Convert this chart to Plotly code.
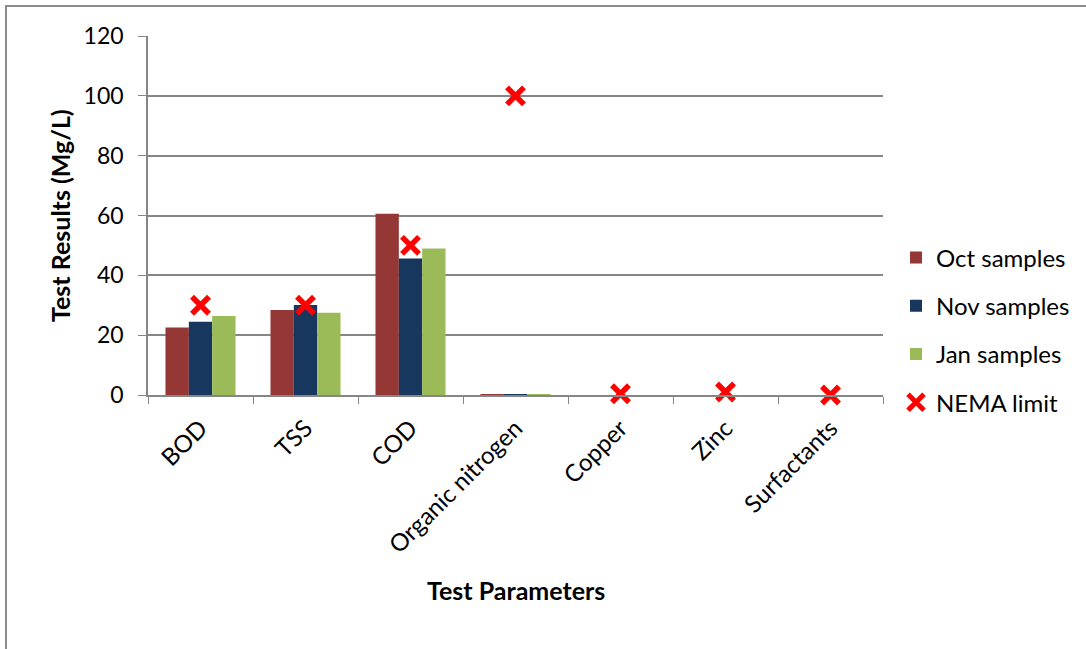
import plotly.graph_objects as go

# Test parameters and measured values (Mg/L)
categories = ["BOD", "TSS", "COD", "Organic nitrogen", "Copper", "Zinc", "Surfactants"]
oct_samples = [22.6, 28.4, 60.6, 0.3, 0, 0, 0]
nov_samples = [24.5, 30.1, 45.6, 0.1, 0, 0, 0]
jan_samples = [26.4, 27.5, 49.0, 0.3, 0, 0, 0]
nema_limit = [30, 30, 50, 100, 0.4, 1.0, 0]
y_ticks = [0, 20, 40, 60, 80, 100, 120]

FONT = "Lato"
W, H = 1086, 649
L, R, T, B = 148, 203, 36, 254
PW, PH = W - L - R, H - T - B

fig = go.Figure()
for name, vals, color, grp in [
    ("Oct samples", oct_samples, "#953735", "a"),
    ("Nov samples", nov_samples, "#17375E", "b"),
    ("Jan samples", jan_samples, "#9BBB59", "c"),
]:
    fig.add_trace(go.Bar(x=categories, y=vals, name=name, marker_color=color,
                         marker_line_width=0, legendgroup=grp))

fig.add_trace(go.Scatter(
    x=categories, y=nema_limit, name="NEMA limit", mode="markers",
    marker=dict(symbol="x-thin", size=17, color="#FF0000",
                line=dict(color="#FF0000", width=5.5)),
    legendgroup="d", cliponaxis=False,
))

def px_x(p):
    return (p - L) / PW

def px_y(p):
    return 1 - (p - T) / PH

fig.update_layout(
    width=W, height=H,
    margin=dict(l=L, r=R, t=T, b=B, autoexpand=False),
    paper_bgcolor="white", plot_bgcolor="white",
    font=dict(family=FONT, size=24, color="black"),
    barmode="group", bargap=0.333, bargroupgap=0,
    showlegend=True,
    legend=dict(x=px_x(896), xanchor="left", y=px_y(330), yanchor="middle",
                font=dict(family=FONT, size=24), tracegroupgap=14,
                bgcolor="rgba(0,0,0,0)", itemwidth=30),
    xaxis=dict(
        type="category", tickangle=-45, tickson="boundaries",
        ticks="outside", ticklen=7, tickcolor="#868686",
        showline=True, linecolor="#868686", linewidth=1.5,
        showgrid=False, tickfont=dict(family=FONT, size=24),
        ticklabelstandoff=8,
    ),
    yaxis=dict(
        range=[0, 120], tickvals=y_ticks, ticks="outside", ticklen=8,
        tickcolor="#868686", showline=True, linecolor="#868686", linewidth=1.5,
        showgrid=True, gridcolor="#868686", gridwidth=1.5, zeroline=False,
        tickfont=dict(family=FONT, size=23), ticklabelstandoff=10,
    ),
    shapes=[dict(type="rect", xref="paper", yref="paper",
                 x0=px_x(6), x1=px_x(W + 10), y0=px_y(H + 10), y1=px_y(6),
                 line=dict(color="#8C8C8C", width=2), layer="below")],
    annotations=[
        dict(text="<b>Test Parameters</b>", xref="paper", yref="paper",
             x=px_x(516), y=px_y(590), xanchor="center", yanchor="middle",
             showarrow=False, font=dict(family=FONT, size=25)),
        dict(text="<b>Test Results (Mg/L)</b>", xref="paper", yref="paper",
             x=px_x(60), y=px_y(216), xanchor="center", yanchor="middle",
             showarrow=False, textangle=-90, font=dict(family=FONT, size=25)),
    ],
)

fig.write_html("out.html")
